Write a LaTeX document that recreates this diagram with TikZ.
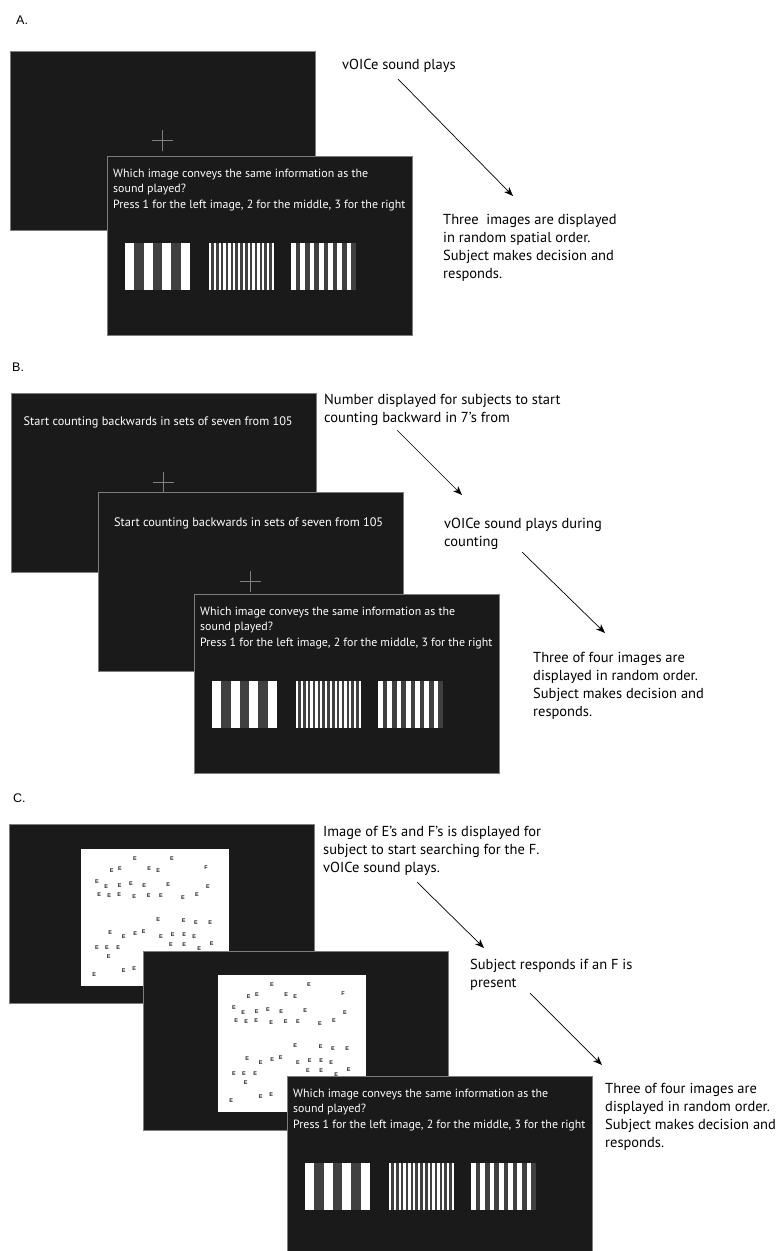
\documentclass[tikz,border=0pt]{standalone}
\usepackage{fontspec}
\setmainfont{PT Sans}
\newfontfamily\labfont{Liberation Sans}
\usetikzlibrary{arrows.meta}
\definecolor{scr}{RGB}{26,26,26}
\definecolor{scrborder}{RGB}{125,125,125}
\definecolor{stripe}{RGB}{64,64,64}
\definecolor{crossc}{RGB}{128,128,128}
\definecolor{ecol}{RGB}{35,35,35}
\tikzset{
 screen/.style={draw=scrborder, line width=1pt, fill=scr, anchor=north west, minimum width=305pt, minimum height=179pt, inner sep=0pt, outer sep=0pt},
 stext/.style={text=white, font=\fontsize{11.9}{15.5}\selectfont, align=left, anchor=base west, inner sep=0pt},
 ctext/.style={stext, font=\fontsize{12.3}{15.5}\selectfont},
 rtext/.style={text=black, font=\fontsize{14.5}{18}\selectfont, align=left, anchor=base west, inner sep=0pt},
 plabel/.style={font=\labfont\fontsize{12.5}{14}\selectfont, anchor=base west, inner sep=0pt},
 arr/.style={-{Stealth[length=9pt,width=7pt,inset=2.5pt]}, line width=0.7pt},
 crossl/.style={draw=crossc, line width=0.9pt},
 eletter/.style={font=\labfont\bfseries\fontsize{5.5}{6}\selectfont, text=ecol, inner sep=0pt},
 whitesq/.style={fill=white, draw=none, anchor=north west, minimum width=148pt, minimum height=137pt, inner sep=0pt},
}
\newcommand{\stripebars}[2]{%
 \fill[stripe] ({#1},{#2}) rectangle ++(65,47);
 \foreach \k in {0,2,4,6} \fill[white] ({#1+\k*65/7},{#2}) rectangle ++(65/7,47);
 \fill[stripe] ({#1+84},{#2}) rectangle ++(65,47);
 \foreach \k in {0,2,...,26} \fill[white] ({#1+84+\k*65/27},{#2}) rectangle ++(65/27,47);
 \fill[stripe] ({#1+166},{#2}) rectangle ++(65,47);
 \foreach \k in {0,2,...,12} \fill[white] ({#1+166+\k*65/14},{#2}) rectangle ++(65/14,47);
}
% question screen: text anchored at the baseline of its last line
\newcommand{\qscreen}[3]{%
 \node[screen] (#1) at (#2,#3) {};
 \node[stext] (#1-q) at ({#2+6},{#3+52}) {Which image conveys the same information as the\\sound played?\\Press 1 for the left image, 2 for the middle, 3 for the right};
 \stripebars{#2+18}{#3+87}
}
\newcommand{\crossin}[1]{%
 \draw[crossl] ([xshift=-10.5pt]#1.center) -- ([xshift=10.5pt]#1.center);
 \draw[crossl] ([yshift=-10.5pt]#1.center) -- ([yshift=10.5pt]#1.center);
}
\newcommand{\esearch}[3]{%
 \node[whitesq] (#1) at (#2,#3) {};
 \foreach \ex/\ey [count=\i] in {54/9.3, 91/9.3, 30.7/21.7, 39/19.3, 68.3/19.3, 77.3/21.7, 16/32.7, 25.3/37.3, 38.7/36.7, 50/35, 63.3/36.7, 87.3/35.3, 127/37.3, 18.3/45.7, 28.3/46.7, 38.3/46, 53.3/47.3, 67.7/46.7, 80/46.7, 102/48.7, 116/45.3, 77.3/70.3, 102.7/71.3, 115/73.3, 129.3/74, 29.3/84, 42.7/87.3, 54.3/84.7, 62.7/82.7, 80/87.3, 91.7/86, 103.3/85.3, 113.3/87.3, 16/98.7, 26/98.7, 37.3/98.7, 27.7/107.3, 90/95.3, 103.3/96, 118.3/99.3, 130.7/94.7, 13.3/125.7, 42.7/122, 53.3/120}
   \node[eletter] (#1-e\i) at ({#2+\ex},{#3+\ey}) {E};
 \node[eletter] (#1-f) at ({#2+125},{#3+19}) {F};
}
\begin{document}
\begin{tikzpicture}[x=1pt,y=-1pt]
\useasboundingbox (0,0) rectangle (777,1251);
\clip (0,0) rectangle (777,1251);
% ---------- Panel A ----------
\node[plabel] (labA) at (16,24) {A.};
\node[screen] (A1) at (10,51) {};
\crossin{A1}
\qscreen{A2}{107}{156}
\node[rtext] (tA1) at (342,69) {vOICe sound plays};
\node[rtext] (tA2) at (443,278) {Three\ \ images are displayed\\in random spatial order.\\Subject makes decision and\\responds.};
\coordinate (aA-s) at (398,79);
\coordinate (aA-e) at (513,196);
\draw[arr] (aA-s) -- (aA-e);
% ---------- Panel B ----------
\node[plabel] (labB) at (12,371) {B.};
\node[screen] (B1) at (11,393) {};
\node[ctext] (B1-t) at (23.5,425) {Start counting backwards in sets of seven from 105};
\crossin{B1}
\node[screen] (B2) at (98,492) {};
\node[ctext] (B2-t) at (114,526) {Start counting backwards in sets of seven from 105};
\crossin{B2}
\qscreen{B3}{194}{594}
\node[rtext] (tB1) at (324,422) {Number displayed for subjects to start\\counting backward in 7’s from};
\node[rtext] (tB2) at (444,546) {vOICe sound plays during\\counting};
\node[rtext] (tB3) at (533,716) {Three of four images are\\displayed in random order.\\Subject makes decision and\\responds.};
\coordinate (aB1-s) at (397,430);
\coordinate (aB1-e) at (462,495);
\draw[arr] (aB1-s) -- (aB1-e);
\coordinate (aB2-s) at (522,552);
\coordinate (aB2-e) at (605,633);
\draw[arr] (aB2-s) -- (aB2-e);
% ---------- Panel C ----------
\node[plabel] (labC) at (13,802) {C.};
\node[screen] (C1) at (9,824) {};
\esearch{C1s}{81}{849}
\node[screen] (C2) at (143,951) {};
\esearch{C2s}{218}{975}
\qscreen{C3}{287}{1076}
\node[rtext] (tC1) at (323,872) {Image of E’s and F’s is displayed for\\subject to start searching for the F.\\vOICe sound plays.};
\node[rtext] (tC2) at (470,987) {Subject responds if an F is\\present};
\node[rtext] (tC3) at (605,1147) {Three of four images are\\displayed in random order.\\Subject makes decision and\\responds.};
\coordinate (aC1-s) at (417,882);
\coordinate (aC1-e) at (484,948);
\draw[arr] (aC1-s) -- (aC1-e);
\coordinate (aC2-s) at (530,993);
\coordinate (aC2-e) at (602,1065);
\draw[arr] (aC2-s) -- (aC2-e);
\end{tikzpicture}
\end{document}
